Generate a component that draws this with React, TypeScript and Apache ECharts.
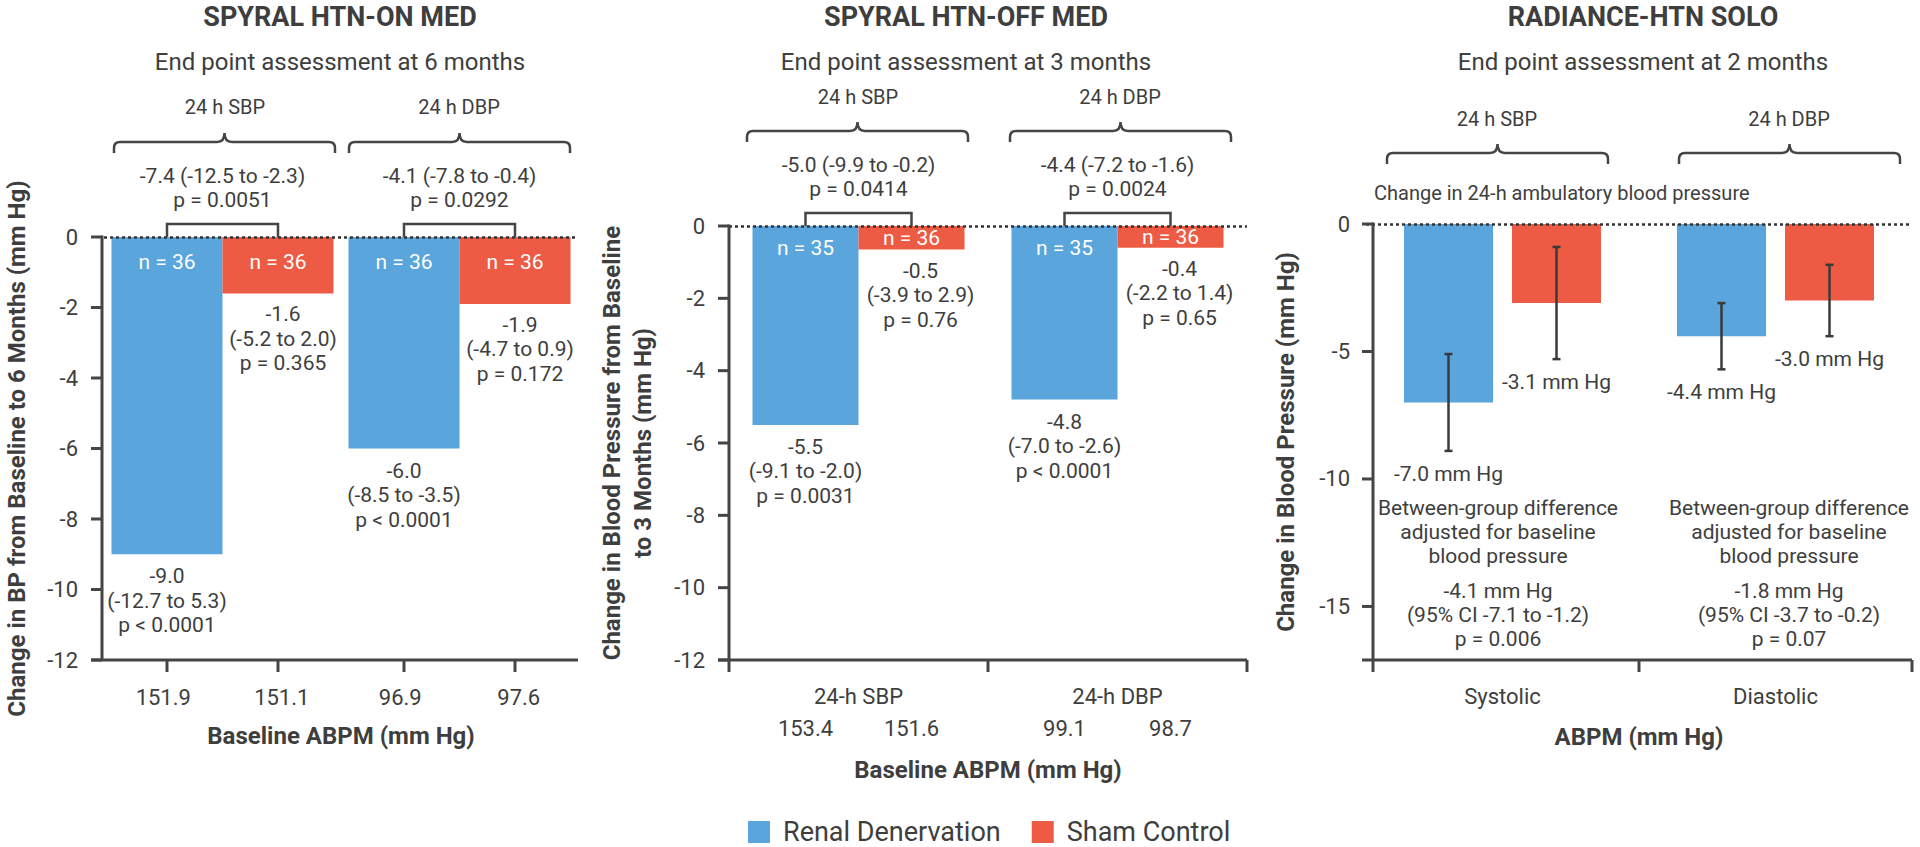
import React, { useEffect, useRef } from "react";
import * as echarts from "echarts";

// ---------------- DATA ----------------
const titles = ["SPYRAL HTN-ON MED", "SPYRAL HTN-OFF MED", "RADIANCE-HTN SOLO"];
const subtitles = [
  "End point assessment at 6 months",
  "End point assessment at 3 months",
  "End point assessment at 2 months",
];
const legendNames = ["Renal Denervation", "Sham Control"];

// Panel 1 - SPYRAL HTN-ON MED
const p1Groups = ["24 h SBP", "24 h DBP"];
const p1Baseline = ["151.9", "151.1", "96.9", "97.6"];
const p1YTicks = [0, -2, -4, -6, -8, -10, -12];
const p1Rdn = [-9.0, -6.0];
const p1Sham = [-1.6, -1.9];
const p1RdnLabel = ["-9.0", "-6.0"];
const p1ShamLabel = ["-1.6", "-1.9"];
const p1RdnN = [36, 36];
const p1ShamN = [36, 36];
const p1RdnCI = ["(-12.7 to 5.3)", "(-8.5 to -3.5)"];
const p1RdnP = ["p < 0.0001", "p < 0.0001"];
const p1ShamCI = ["(-5.2 to 2.0)", "(-4.7 to 0.9)"];
const p1ShamP = ["p = 0.365", "p = 0.172"];
const p1Diff = ["-7.4 (-12.5 to -2.3)", "-4.1 (-7.8 to -0.4)"];
const p1DiffP = ["p = 0.0051", "p = 0.0292"];

// Panel 2 - SPYRAL HTN-OFF MED
const p2Groups = ["24 h SBP", "24 h DBP"];
const p2Cats = ["24-h SBP", "24-h DBP"];
const p2YTicks = [0, -2, -4, -6, -8, -10, -12];
const p2RdnBase = ["153.4", "99.1"];
const p2ShamBase = ["151.6", "98.7"];
const p2Rdn = [-5.5, -4.8];
const p2Sham = [-0.65, -0.6];
const p2RdnLabel = ["-5.5", "-4.8"];
const p2ShamLabel = ["-0.5", "-0.4"];
const p2RdnN = [35, 35];
const p2ShamN = [36, 36];
const p2RdnCI = ["(-9.1 to -2.0)", "(-7.0 to -2.6)"];
const p2RdnP = ["p = 0.0031", "p < 0.0001"];
const p2ShamCI = ["(-3.9 to 2.9)", "(-2.2 to 1.4)"];
const p2ShamP = ["p = 0.76", "p = 0.65"];
const p2Diff = ["-5.0 (-9.9 to -0.2)", "-4.4 (-7.2 to -1.6)"];
const p2DiffP = ["p = 0.0414", "p = 0.0024"];

// Panel 3 - RADIANCE-HTN SOLO
const p3Groups = ["24 h SBP", "24 h DBP"];
const p3Cats = ["Systolic", "Diastolic"];
const p3Rdn = [-7.0, -4.4];
const p3Sham = [-3.1, -3.0];
const p3RdnErrHigh = [-5.1, -3.1];
const p3RdnErrLow = [-8.9, -5.7];
const p3ShamErrHigh = [-0.9, -1.6];
const p3ShamErrLow = [-5.3, -4.4];
const p3Note = "Change in 24-h ambulatory blood pressure";
const p3DiffHead = ["Between-group difference", "adjusted for baseline", "blood pressure"];
const p3Diff = ["-4.1 mm Hg", "-1.8 mm Hg"];
const p3DiffCI = ["(95% CI -7.1 to -1.2)", "(95% CI -3.7 to -0.2)"];
const p3DiffP = ["p = 0.006", "p = 0.07"];
const p3YTicks = [0, -5, -10, -15];

// ---------------- STYLE / LAYOUT ----------------
const FONT = "Roboto, 'Noto Sans', 'DejaVu Sans', sans-serif";
const TXT = "#3E3E3E";
const AX = "#454545";
const BLUE = "#59A5DC";
const RED = "#EE5B45";

const G1 = { left: 104, top: 237, width: 474, height: 423 };
const G2 = { left: 729, top: 226, width: 518, height: 434 };
const G3 = { left: 1366, top: 224, width: 546, height: 436 };
const BW1 = 111;
const BW2 = 106;
const BW3 = 89;
const GAP3 = 19;
const YOFF = [2, 0, -7];
const Y1 = { min: -12, max: 0 };
const Y2 = { min: -12, max: 0 };
const Y3 = { min: -17.1, max: 0 };
const LW = 3; // axis line thickness
const TL = 11; // tick length

echarts.graphic.registerShape(
  "brace",
  echarts.graphic.extendPath(
    "M0,11 L0,6 Q0,0 6,0 L103,0 Q110.5,0 110.5,-9 Q110.5,0 118,0 L215,0 Q221,0 221,6 L221,11",
    {}
  )
);

const txt = (x: number, y: number, text: string, o: any = {}) => ({
  type: "text",
  x,
  y,
  silent: true,
  style: {
    text,
    fill: o.fill || TXT,
    fontSize: o.size || 21,
    fontFamily: FONT,
    fontWeight: o.weight || "normal",
    textAlign: o.align || "center",
    textVerticalAlign: "middle",
  },
});

const zeroLine = () => ({
  silent: true,
  symbol: ["none", "none"],
  label: { show: false },
  lineStyle: { type: [3, 3], color: "#333", width: 2.5 },
  emphasis: { disabled: true },
  data: [{ yAxis: 0 }],
});

const lbl = (extra: any = {}) => ({ show: true, fontSize: 22, color: TXT, fontFamily: FONT, ...extra });
const nameStyle = () => ({ fontSize: 24, fontWeight: "bold", color: TXT, fontFamily: FONT, lineHeight: 31 });

// Axis frame (axis lines + ticks) as filled thin rectangles, following each grid's linear value scale
function axisFrame(G: any, Y: any, off: number, yTicks: number[], xTickXs: number[]) {
  const yOf = (v: number) => G.top + ((Y.max - v) / (Y.max - Y.min)) * G.height;
  const ax = G.left - off;
  const bot = G.top + G.height;
  const h = LW / 2;
  const r = (x: number, y: number, w: number, hh: number) => ({
    type: "rect",
    silent: true,
    zlevel: 1,
    z: 100,
    shape: { x, y, width: w, height: hh },
    style: { fill: AX },
  });
  const els: any[] = [
    r(ax - h, G.top - h, LW, bot - G.top + h),
    r(ax - TL, bot - h, G.left + G.width - (ax - TL), LW),
  ];
  yTicks.forEach((v) => els.push(r(ax - TL, yOf(v) - h, TL, LW)));
  xTickXs.forEach((x) => els.push(r(x - h, bot, LW, 12)));
  return els;
}

function annotSeries(cfg: any) {
  return {
    type: "custom",
    name: cfg.name,
    xAxisIndex: cfg.xAxisIndex,
    yAxisIndex: cfg.yAxisIndex,
    silent: true,
    clip: false,
    z: 5,
    data: cfg.groups.map((_: string, i: number) => [i, 0]),
    renderItem: (params: any, api: any) => {
      const i = api.value(0);
      const zp = api.coord([i, 0]);
      const cx = zp[0];
      const zy = zp[1];
      const bx = cx - cfg.barW / 2;
      const sx = cx + cfg.barW / 2;
      const rEnd = api.coord([i, cfg.rdn[i]])[1];
      const sEnd = api.coord([i, cfg.sham[i]])[1];
      const children: any[] = [
        {
          type: "polyline",
          shape: { points: [[bx, zy], [bx, zy - 13], [sx, zy - 13], [sx, zy]] },
          style: { stroke: AX, lineWidth: 2.5, fill: "none" },
        },
        txt(cx, zy - 61, cfg.diff[i]),
        txt(cx, zy - 37, cfg.diffP[i]),
        txt(bx, zy + cfg.nDy, `n = ${cfg.rdnN[i]}`, { fill: "#fff" }),
        txt(sx, cfg.shamNCenter ? (zy + sEnd) / 2 : zy + cfg.nDy, `n = ${cfg.shamN[i]}`, { fill: "#fff" }),
      ];
      [cfg.rdnLabel[i], cfg.rdnCI[i], cfg.rdnP[i]].forEach((t: string, k: number) =>
        children.push(txt(bx, rEnd + 22 + k * 24.5, t))
      );
      [cfg.shamLabel[i], cfg.shamCI[i], cfg.shamP[i]].forEach((t: string, k: number) =>
        children.push(txt(sx + cfg.shamDx, sEnd + 21 + k * 24.5, t))
      );
      if (cfg.rdnBase) {
        const yb = api.coord([i, cfg.yMin])[1];
        children.push(txt(cx, yb + 36, cfg.cats[i], { size: 22 }));
        children.push(txt(bx, yb + 68, cfg.rdnBase[i], { size: 22 }));
        children.push(txt(sx, yb + 68, cfg.shamBase[i], { size: 22 }));
      }
      return { type: "group", children };
    },
  };
}

function errSeries() {
  return {
    type: "custom",
    name: "p3err",
    xAxisIndex: 3,
    yAxisIndex: 2,
    silent: true,
    clip: false,
    z: 5,
    data: p3Cats.map((_, i) => [i, 0]),
    renderItem: (params: any, api: any) => {
      const i = api.value(0);
      const cx = api.coord([i, 0])[0];
      const off = (BW3 + GAP3) / 2;
      const items = [
        { x: cx - off, hi: p3RdnErrHigh[i], lo: p3RdnErrLow[i], v: p3Rdn[i] },
        { x: cx + off, hi: p3ShamErrHigh[i], lo: p3ShamErrLow[i], v: p3Sham[i] },
      ];
      const children: any[] = [];
      items.forEach((it) => {
        const yh = api.coord([i, it.hi])[1];
        const yl = api.coord([i, it.lo])[1];
        const st = { stroke: "#3A3A3A", lineWidth: 2.5 };
        children.push({ type: "line", shape: { x1: it.x, y1: yh, x2: it.x, y2: yl }, style: st });
        children.push({ type: "line", shape: { x1: it.x - 4, y1: yh, x2: it.x + 4, y2: yh }, style: st });
        children.push({ type: "line", shape: { x1: it.x - 4, y1: yl, x2: it.x + 4, y2: yl }, style: st });
        children.push(txt(it.x, yl + 23, `${it.v.toFixed(1)} mm Hg`));
      });
      return { type: "group", children };
    },
  };
}

const noLine = { show: false };

function buildOption() {
  const graphic: any[] = [];
  const titleX = [340, 966, 1643];
  titles.forEach((t, k) => graphic.push(txt(titleX[k], 17, t, { size: 27, weight: "bold" })));
  subtitles.forEach((t, k) => graphic.push(txt(titleX[k], 62, t, { size: 24 })));

  const groupLabelPos = [
    [[225, 107], [459, 107]],
    [[858, 97], [1120, 97]],
    [[1497, 119], [1789, 119]],
  ];
  const bracePos = [
    [[114, 142], [349, 142]],
    [[747, 131], [1010, 131]],
    [[1387, 153], [1679, 153]],
  ];
  [p1Groups, p2Groups, p3Groups].forEach((gs, k) => {
    gs.forEach((g, i) => {
      graphic.push(txt(groupLabelPos[k][i][0], groupLabelPos[k][i][1], g, { size: 20 }));
      graphic.push({
        type: "brace",
        x: bracePos[k][i][0],
        y: bracePos[k][i][1],
        silent: true,
        style: { fill: "none", stroke: AX, lineWidth: 2.5 },
      });
    });
  });

  graphic.push(txt(1374, 193, p3Note, { size: 20, align: "left" }));
  const noteX = [1498, 1789];
  p3Cats.forEach((_, i) => {
    p3DiffHead.forEach((t, k) => graphic.push(txt(noteX[i], 508 + k * 24, t)));
    [p3Diff[i], p3DiffCI[i], p3DiffP[i]].forEach((t, k) => graphic.push(txt(noteX[i], 591 + k * 24, t)));
  });

  // axis frames
  const band1 = G1.width / p1Groups.length;
  const x1Ticks: number[] = [];
  p1Groups.forEach((_, i) => {
    const c = G1.left + band1 * (i + 0.5);
    x1Ticks.push(c - BW1 / 2, c + BW1 / 2);
  });
  const band2 = G2.width / p2Cats.length;
  const x2Ticks = [G2.left - YOFF[1], G2.left + band2, G2.left + 2 * band2];
  const band3 = G3.width / p3Cats.length;
  const x3Ticks = [G3.left - YOFF[2], G3.left + band3, G3.left + 2 * band3];
  graphic.push(...axisFrame(G1, Y1, YOFF[0], p1YTicks, x1Ticks));
  graphic.push(...axisFrame(G2, Y2, YOFF[1], p2YTicks, x2Ticks));
  graphic.push(...axisFrame(G3, Y3, YOFF[2], p3YTicks, x3Ticks));

  return {
    animation: false,
    backgroundColor: "#ffffff",
    textStyle: { fontFamily: FONT },
    legend: {
      left: 743,
      top: 813,
      itemWidth: 22,
      itemHeight: 22,
      itemGap: 31,
      icon: "rect",
      selectedMode: false,
      data: legendNames,
      textStyle: { fontSize: 27, lineHeight: 28, color: TXT, fontFamily: FONT, padding: [0, 0, 0, 8] },
    },
    grid: [{ ...G1 }, { ...G2 }, { ...G3 }],
    xAxis: [
      { type: "category", gridIndex: 0, data: p1Groups, show: false, position: "top" },
      {
        type: "category",
        gridIndex: 0,
        data: p1Baseline,
        position: "bottom",
        axisLine: noLine,
        axisTick: noLine,
        axisLabel: lbl({ margin: 24, lineHeight: 26 }),
        name: "Baseline ABPM (mm Hg)",
        nameLocation: "middle",
        nameGap: 60,
        nameTextStyle: nameStyle(),
      },
      {
        type: "category",
        gridIndex: 1,
        data: p2Cats,
        position: "bottom",
        axisLine: noLine,
        axisTick: noLine,
        axisLabel: { show: false },
        name: "Baseline ABPM (mm Hg)",
        nameLocation: "middle",
        nameGap: 94,
        nameTextStyle: nameStyle(),
      },
      {
        type: "category",
        gridIndex: 2,
        data: p3Cats,
        position: "bottom",
        axisLine: noLine,
        axisTick: noLine,
        axisLabel: lbl({ margin: 23, lineHeight: 26 }),
        name: "ABPM (mm Hg)",
        nameLocation: "middle",
        nameGap: 61,
        nameTextStyle: nameStyle(),
      },
    ],
    yAxis: [
      {
        type: "value",
        gridIndex: 0,
        min: Y1.min,
        max: Y1.max,
        interval: 2,
        offset: YOFF[0],
        axisLine: noLine,
        axisTick: noLine,
        axisLabel: lbl({ margin: 24 }),
        splitLine: { show: false },
        name: "Change in BP from Baseline to 6 Months (mm Hg)",
        nameLocation: "middle",
        nameRotate: 90,
        nameGap: 70,
        nameTextStyle: nameStyle(),
      },
      {
        type: "value",
        gridIndex: 1,
        min: Y2.min,
        max: Y2.max,
        interval: 2,
        offset: YOFF[1],
        axisLine: noLine,
        axisTick: noLine,
        axisLabel: lbl({ margin: 24 }),
        splitLine: { show: false },
        name: "Change in Blood Pressure from Baseline\nto 3 Months (mm Hg)",
        nameLocation: "middle",
        nameRotate: 90,
        nameGap: 71,
        nameTextStyle: nameStyle(),
      },
      {
        type: "value",
        gridIndex: 2,
        min: Y3.min,
        max: Y3.max,
        offset: YOFF[2],
        axisLine: noLine,
        axisTick: { show: false, customValues: p3YTicks },
        axisLabel: lbl({ margin: 23, customValues: p3YTicks }),
        splitLine: { show: false },
        name: "Change in Blood Pressure (mm Hg)",
        nameLocation: "middle",
        nameRotate: 90,
        nameGap: 72,
        nameTextStyle: nameStyle(),
      },
    ],
    graphic,
    series: [
      {
        type: "bar",
        name: legendNames[0],
        xAxisIndex: 0,
        yAxisIndex: 0,
        data: p1Rdn,
        barWidth: BW1,
        barGap: "0%",
        itemStyle: { color: BLUE },
        emphasis: { disabled: true },
        markLine: zeroLine(),
      },
      {
        type: "bar",
        name: legendNames[1],
        xAxisIndex: 0,
        yAxisIndex: 0,
        data: p1Sham,
        barWidth: BW1,
        barGap: "0%",
        itemStyle: { color: RED },
        emphasis: { disabled: true },
      },
      annotSeries({
        name: "p1annot",
        xAxisIndex: 0,
        yAxisIndex: 0,
        groups: p1Groups,
        barW: BW1,
        rdn: p1Rdn,
        sham: p1Sham,
        rdnN: p1RdnN,
        shamN: p1ShamN,
        rdnLabel: p1RdnLabel,
        shamLabel: p1ShamLabel,
        rdnCI: p1RdnCI,
        rdnP: p1RdnP,
        shamCI: p1ShamCI,
        shamP: p1ShamP,
        diff: p1Diff,
        diffP: p1DiffP,
        nDy: 25,
        shamNCenter: false,
        shamDx: 5,
      }),
      {
        type: "bar",
        name: legendNames[0],
        xAxisIndex: 2,
        yAxisIndex: 1,
        data: p2Rdn,
        barWidth: BW2,
        barGap: "0%",
        itemStyle: { color: BLUE },
        emphasis: { disabled: true },
        markLine: zeroLine(),
      },
      {
        type: "bar",
        name: legendNames[1],
        xAxisIndex: 2,
        yAxisIndex: 1,
        data: p2Sham,
        barWidth: BW2,
        barGap: "0%",
        itemStyle: { color: RED },
        emphasis: { disabled: true },
      },
      annotSeries({
        name: "p2annot",
        xAxisIndex: 2,
        yAxisIndex: 1,
        groups: p2Cats,
        cats: p2Cats,
        barW: BW2,
        rdn: p2Rdn,
        sham: p2Sham,
        rdnN: p2RdnN,
        shamN: p2ShamN,
        rdnLabel: p2RdnLabel,
        shamLabel: p2ShamLabel,
        rdnCI: p2RdnCI,
        rdnP: p2RdnP,
        shamCI: p2ShamCI,
        shamP: p2ShamP,
        diff: p2Diff,
        diffP: p2DiffP,
        nDy: 22,
        shamNCenter: true,
        shamDx: 9,
        rdnBase: p2RdnBase,
        shamBase: p2ShamBase,
        yMin: Y2.min,
      }),
      {
        type: "bar",
        name: legendNames[0],
        xAxisIndex: 3,
        yAxisIndex: 2,
        data: p3Rdn,
        barWidth: BW3,
        barGap: `${((GAP3 / BW3) * 100).toFixed(1)}%`,
        itemStyle: { color: BLUE },
        emphasis: { disabled: true },
        markLine: zeroLine(),
      },
      {
        type: "bar",
        name: legendNames[1],
        xAxisIndex: 3,
        yAxisIndex: 2,
        data: p3Sham,
        barWidth: BW3,
        barGap: `${((GAP3 / BW3) * 100).toFixed(1)}%`,
        itemStyle: { color: RED },
        emphasis: { disabled: true },
      },
      errSeries(),
    ],
  };
}

export default function App() {
  const ref = useRef<HTMLDivElement>(null);
  useEffect(() => {
    const chart = echarts.init(ref.current as HTMLDivElement, null, { renderer: "svg" });
    chart.setOption(buildOption() as any);
    return () => chart.dispose();
  }, []);
  return (
    <div
      ref={ref}
      style={{ position: "fixed", left: 0, top: 0, width: 1920, height: 847, background: "#fff" }}
    />
  );
}
